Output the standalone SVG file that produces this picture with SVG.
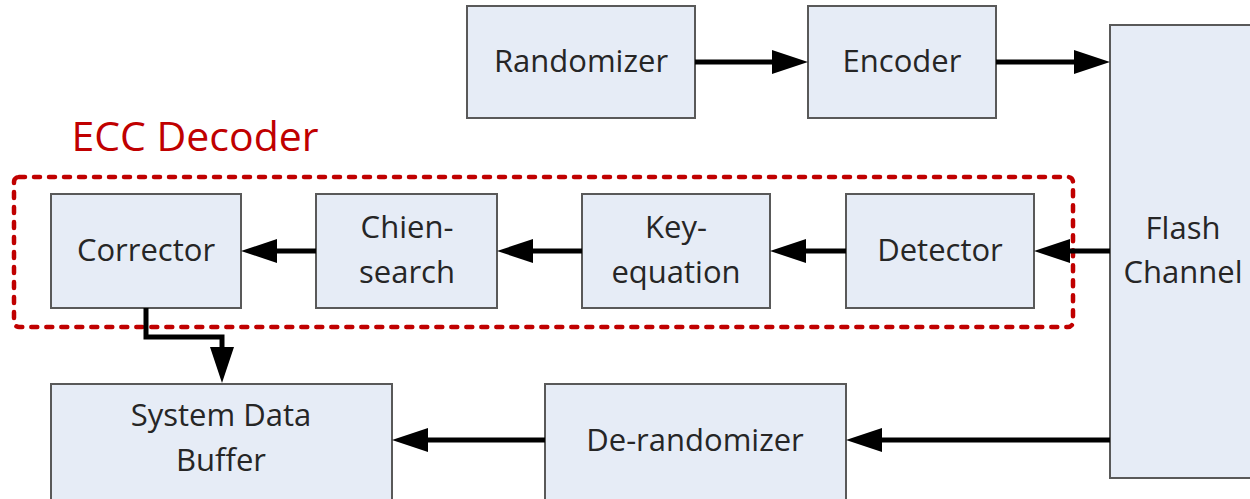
<svg xmlns="http://www.w3.org/2000/svg" width="1250" height="499" viewBox="0 0 1250 499">
<style>
.box{fill:#e6ecf6;stroke:#595959;stroke-width:2}
.t{font-family:"Open Sans","Liberation Sans",sans-serif;font-size:31px;fill:#262626;text-anchor:middle}
.c{fill:none;stroke:#000;stroke-width:5}
</style>
<defs>
<marker id="ah" markerUnits="userSpaceOnUse" markerWidth="36" markerHeight="24" viewBox="0 0 36 24" refX="26" refY="12" orient="auto">
<path d="M0,0 L36,12 L0,24 z" fill="#000"/>
</marker>
</defs>
<rect x="0" y="0" width="1250" height="499" fill="#fff"/>
<g id="ecc-decoder">
<rect x="14" y="177" width="1059" height="150" rx="5" fill="none" stroke="#c00000" stroke-width="4.5" stroke-dasharray="6,9" stroke-linecap="round"/>
<text x="195" y="151" style="font-family:'Open Sans','Liberation Sans',sans-serif;font-size:41px;fill:#c00000;text-anchor:middle">ECC Decoder</text>
</g>
<g id="randomizer"><rect class="box" x="467" y="6" width="228" height="112"/><text class="t" x="581" y="72">Randomizer</text></g>
<g id="encoder"><rect class="box" x="808" y="6" width="188" height="112"/><text class="t" x="902" y="72">Encoder</text></g>
<g id="flash-channel"><rect class="box" x="1110" y="25" width="150" height="453"/><text class="t" x="1183" y="239">Flash</text><text class="t" x="1183" y="283">Channel</text></g>
<g id="detector"><rect class="box" x="846" y="194" width="188" height="114"/><text class="t" x="940" y="261">Detector</text></g>
<g id="key-equation"><rect class="box" x="582" y="194" width="188" height="114"/><text class="t" x="676" y="238">Key-</text><text class="t" x="676" y="283">equation</text></g>
<g id="chien-search"><rect class="box" x="316" y="194" width="181" height="114"/><text class="t" x="407" y="238">Chien-</text><text class="t" x="407" y="283">search</text></g>
<g id="corrector"><rect class="box" x="51" y="194" width="190" height="114"/><text class="t" x="146" y="261">Corrector</text></g>
<g id="system-data-buffer"><rect class="box" x="51" y="384" width="341" height="118"/><text class="t" x="221" y="426">System Data</text><text class="t" x="221" y="471">Buffer</text></g>
<g id="de-randomizer"><rect class="box" x="545" y="384" width="301" height="118"/><text class="t" x="695" y="451">De-randomizer</text></g>
<g id="connectors">
<path class="c" d="M695,62 L798,62" marker-end="url(#ah)"/>
<path class="c" d="M996,62 L1100,62" marker-end="url(#ah)"/>
<path class="c" d="M1110,251 L1044,251" marker-end="url(#ah)"/>
<path class="c" d="M846,251 L780,251" marker-end="url(#ah)"/>
<path class="c" d="M582,251 L507,251" marker-end="url(#ah)"/>
<path class="c" d="M316,251 L251,251" marker-end="url(#ah)"/>
<path class="c" d="M146,308 L146,337 L222,337 L222,373" marker-end="url(#ah)"/>
<path class="c" d="M1110,440 L856,440" marker-end="url(#ah)"/>
<path class="c" d="M545,440 L402,440" marker-end="url(#ah)"/>
</g>
</svg>
